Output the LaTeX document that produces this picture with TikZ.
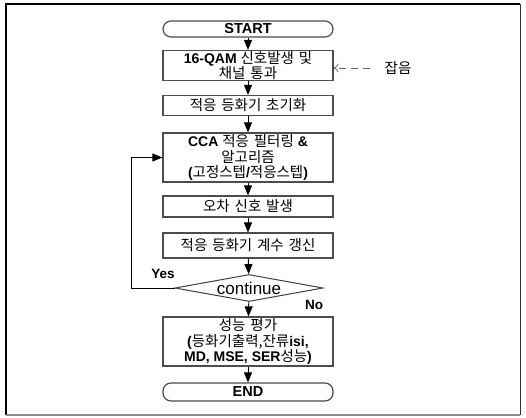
\documentclass[tikz,border=0pt]{standalone}
\usepackage{fontspec}
\setmainfont{Liberation Sans}
\newfontfamily\krfont[WordSpace=1.5]{Noto Sans CJK KR}
\newcommand{\kr}[1]{{\krfont\mdseries\fontsize{14.5}{15.5}\selectfont #1}}
\usetikzlibrary{shapes.geometric,arrows.meta}

\tikzset{
  stepbox/.style={draw=black!70, line width=1.2pt, minimum width=170pt,
    inner sep=0pt, align=center, font=\fontsize{14}{15.5}\selectfont\bfseries},
  termbox/.style={stepbox, rounded corners=8pt, font=\fontsize{14.5}{15}\selectfont\bfseries},
  flow/.style={-{Triangle[width=8pt,length=10pt]}, line width=0.9pt},
  noisearrow/.style={-{To[length=5pt,width=9pt]}, black!60, line width=0.8pt,
    dash pattern=on 7pt off 5pt},
}

\begin{document}
\begin{tikzpicture}[x=1pt,y=-1pt]
  \def\Xmid{248};
  \def\Xloop{131};
  \useasboundingbox (0,0) rectangle (526,417);

  % frame
  \draw[line width=1.5pt] (6,415) -- (6,4) -- (520,4);
  \draw[black!45, line width=1.2pt] (6,415) -- (520,415);
  \draw[black!80, line width=1pt] (520,4) -- (520,415);

  % boxes
  \node[termbox, minimum height=16pt] (start) at (\Xmid, 29) {START};
  \node[stepbox, minimum height=30pt] (qam) at (\Xmid, 65.5)
    {16-QAM \kr{신호발생 및}\\\kr{채널 통과}};
  \node[stepbox, minimum height=20pt] (init) at (\Xmid, 105.5) {\kr{적응 등화기 초기화}};
  \node[stepbox, minimum height=49pt] (cca) at (\Xmid, 157.5)
    {CCA \kr{적응 필터링} \&\\\kr{알고리즘}\\(\kr{고정스텝}/\kr{적응스텝})};
  \node[stepbox, minimum height=21pt] (err) at (\Xmid, 206.5) {\kr{오차 신호 발생}};
  \node[stepbox, minimum height=25pt] (upd) at (\Xmid, 245.5) {\kr{적응 등화기 계수 갱신}};
  \node[diamond, draw=black!75, line width=1pt, aspect=5.5, inner sep=0pt,
    minimum width=148pt, minimum height=27pt, font=\fontsize{17}{17}\selectfont]
    (cont) at (249, 288) {continue};
  \node[stepbox, minimum height=49pt] (eval) at (\Xmid, 341.5)
    {\kr{성능 평가}\\(\kr{등화기출력,잔류}isi,\\MD, MSE, SER\kr{성능})};
  \node[termbox, minimum height=18pt] (end) at (\Xmid, 392) {END};
  \coordinate (loop) at (\Xloop, 288);

  % arrows
  \draw[flow] (start) -- (qam);
  \draw[flow] (qam) -- (init);
  \draw[flow] (init) -- (cca);
  \draw[flow] (cca) -- (err);
  \draw[flow] (err) -- (upd);
  \draw[flow] (upd) -- (cont);
  \draw[flow] (cont) -- (eval);
  \draw[flow] (eval) -- (end);
  \draw[flow] (cont.west) -- (loop) |- (cca.west);

  % labels
  \node[inner sep=0pt] (noise) at (398, 68) {\kr{잡음}};
  \draw[noisearrow] ([xshift=-14pt]noise.west) -- (noise.west -| qam.east);
  \node[font=\fontsize{13.5}{14}\selectfont\bfseries] (yes) at (163, 274) {Yes};
  \node[font=\fontsize{13.5}{14}\selectfont\bfseries] (no) at (314, 305) {No};
\end{tikzpicture}
\end{document}
